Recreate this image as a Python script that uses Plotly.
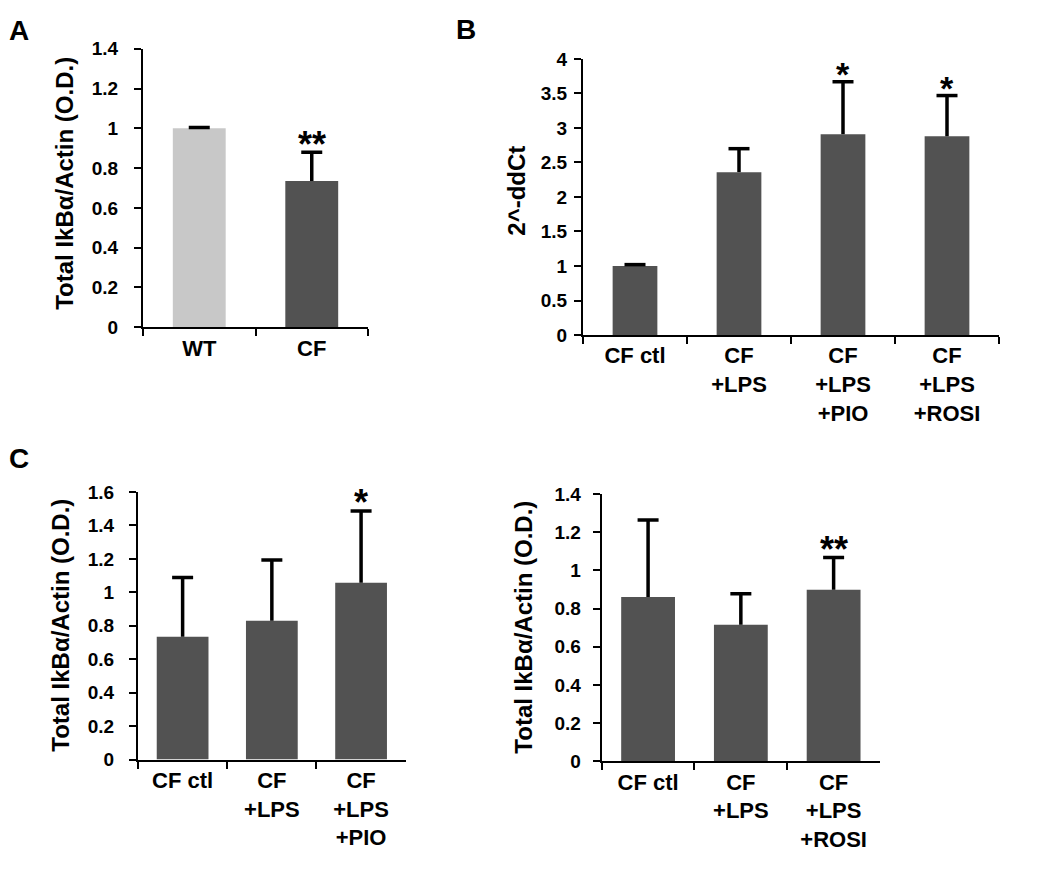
import plotly.graph_objects as go

# ---------------- data ----------------
a_cats = ["WT", "CF"]
a_vals = [1.0, 0.735]
a_errs = [0.004, 0.145]
a_colors = ["#c8c8c8", "#525252"]
a_stars = ["", "**"]

b_cats = ["CF ctl", "CF<br>+LPS", "CF<br>+LPS<br>+PIO", "CF<br>+LPS<br>+ROSI"]
b_vals = [1.0, 2.36, 2.91, 2.88]
b_errs = [0.02, 0.34, 0.76, 0.59]
b_stars = ["", "", "*", "*"]

c1_cats = ["CF ctl", "CF<br>+LPS", "CF<br>+LPS<br>+PIO"]
c1_vals = [0.735, 0.83, 1.057]
c1_errs = [0.354, 0.364, 0.43]
c1_stars = ["", "", "*"]

c2_cats = ["CF ctl", "CF<br>+LPS", "CF<br>+LPS<br>+ROSI"]
c2_vals = [0.86, 0.715, 0.898]
c2_errs = [0.404, 0.162, 0.17]
c2_stars = ["", "", "**"]

ytitle_od = "Total IkBα/Actin (O.D.)"
ytitle_b = "2^-ddCt"

# ---------------- layout helpers ----------------
PAGE_W, PAGE_H = 1050, 870
OFF = 8  # default body margin of the html page
WF, HF = PAGE_W - 2 * OFF, PAGE_H - 2 * OFF
FONT = "Arial, Liberation Sans, sans-serif"
DARK = "#525252"


def fx(x):
    return (x - OFF) / WF


def fy(y):
    return 1 - (y - OFF) / HF


fig = go.Figure()

panels = [
    dict(cats=a_cats, vals=a_vals, errs=a_errs, colors=a_colors, stars=a_stars,
         ax="", box=(143, 368, 39.5, 325), yr=[0, 1.4], dt=0.2, bw=0.47,
         yt=ytitle_od, ytpos=(65, 178), ss=36, ylso=12),
    dict(cats=b_cats, vals=b_vals, errs=b_errs, colors=[DARK] * 4, stars=b_stars,
         ax="2", box=(583, 999, 50, 333), yr=[0, 4], dt=0.5, bw=0.43,
         yt=ytitle_b, ytpos=(517, 185), ss=34, ylso=3),
    dict(cats=c1_cats, vals=c1_vals, errs=c1_errs, colors=[DARK] * 3, stars=c1_stars,
         ax="3", box=(138, 405.7, 494, 768.2), yr=[0, 1.6], dt=0.2, bw=0.58,
         yt=ytitle_od, ytpos=(61, 631), ss=36, ylso=11),
    dict(cats=c2_cats, vals=c2_vals, errs=c2_errs, colors=[DARK] * 3, stars=c2_stars,
         ax="4", box=(601.7, 880, 496, 770), yr=[0, 1.4], dt=0.2, bw=0.58,
         yt=ytitle_od, ytpos=(524, 633), ss=36, ylso=8),
]

annotations = []
for p in panels:
    xa = "x" + p["ax"]
    ya = "y" + p["ax"]
    fig.add_trace(go.Bar(x=p["cats"], y=p["vals"], marker=dict(color=p["colors"], line=dict(width=0)),
                         width=p["bw"], xaxis=xa, yaxis=ya, showlegend=False, hoverinfo="skip"))
    # error stems (upper only)
    sx, sy = [], []
    for c, v, e in zip(p["cats"], p["vals"], p["errs"]):
        sx += [c, c, None]
        sy += [v, v + e, None]
    fig.add_trace(go.Scatter(x=sx, y=sy, mode="lines", line=dict(color="black", width=3.5),
                             xaxis=xa, yaxis=ya, showlegend=False, hoverinfo="skip"))
    # error caps
    fig.add_trace(go.Scatter(x=p["cats"], y=[v + e for v, e in zip(p["vals"], p["errs"])],
                             mode="markers",
                             marker=dict(symbol="line-ew", size=15, line=dict(color="black", width=3.5)),
                             xaxis=xa, yaxis=ya, showlegend=False, hoverinfo="skip"))
    # significance stars
    for c, v, e, s in zip(p["cats"], p["vals"], p["errs"], p["stars"]):
        if s:
            annotations.append(dict(x=c, y=v + e, xref=xa, yref=ya, text=s, showarrow=False,
                                    yanchor="middle", yshift=8,
                                    font=dict(family=FONT, size=p["ss"], color="black", weight="bold")))
    x0, x1, top, bottom = p["box"]
    xkey = "xaxis" + p["ax"]
    ykey = "yaxis" + p["ax"]
    fig.layout[xkey] = dict(domain=[fx(x0), fx(x1)], anchor=ya, showline=True, linecolor="black", linewidth=2,
                            ticks="outside", ticklen=7, tickwidth=2, tickcolor="black",
                            tickson="boundaries", showgrid=False, zeroline=False,
                            tickfont=dict(family=FONT, size=22, color="black", weight="bold"),
                            ticklabelstandoff=0, fixedrange=True)
    fig.layout[ykey] = dict(domain=[fy(bottom), fy(top)], anchor=xa, range=p["yr"], dtick=p["dt"], tick0=0,
                            showline=True, linecolor="black", linewidth=2,
                            ticks="outside", ticklen=7, tickwidth=2, tickcolor="black",
                            showgrid=False, zeroline=False,
                            tickfont=dict(family=FONT, size=19, color="black", weight="bold"),
                            ticklabelstandoff=p["ylso"], fixedrange=True)
    tx, ty = p["ytpos"]
    annotations.append(dict(x=fx(tx), y=fy(ty), xref="paper", yref="paper", text=p["yt"],
                            textangle=-90, showarrow=False, xanchor="center", yanchor="middle",
                            font=dict(family=FONT, size=24, color="black", weight="bold")))

for letter, (lx, ly) in zip(["A", "B", "C"], [(19, 21), (466, 20), (19, 460)]):
    annotations.append(dict(x=fx(lx), y=fy(ly), xref="paper", yref="paper", text=letter,
                            showarrow=False, xanchor="center", yanchor="middle",
                            font=dict(family=FONT, size=28, color="black", weight="bold")))

fig.update_layout(width=WF, height=HF, margin=dict(l=0, r=0, t=0, b=0),
                  paper_bgcolor="white", plot_bgcolor="white",
                  barmode="overlay", annotations=annotations)

fig.write_html("out.html")
